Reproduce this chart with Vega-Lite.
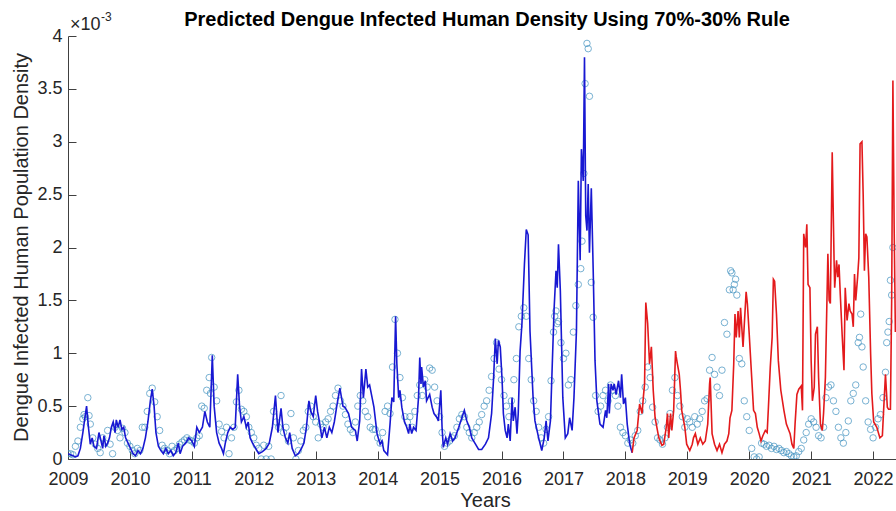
{
"$schema": "https://vega.github.io/schema/vega-lite/v6.json",
"width": 828,
"height": 423,
"autosize": {"type": "none"},
"padding": {"left": 68, "top": 36, "right": 0, "bottom": 52},
"background": "white",
"title": {"text": "Predicted Dengue Infected Human Density Using 70%-30% Rule", "font": "Liberation Sans", "fontSize": 20, "fontWeight": "bold", "color": "#000000", "anchor": "middle", "dx": 5, "offset": -35, "baseline": "alphabetic"},
"datasets": {
"obs": [
{"t":2009.00,"y":0.05},{"t":2009.04,"y":0.05},{"t":2009.08,"y":0.04},{"t":2009.12,"y":0.12},{"t":2009.16,"y":0.17},{"t":2009.20,"y":0.30},{"t":2009.24,"y":0.38},{"t":2009.26,"y":0.42},{"t":2009.28,"y":0.40},{"t":2009.32,"y":0.58},{"t":2009.34,"y":0.41},{"t":2009.36,"y":0.33},{"t":2009.40,"y":0.20},{"t":2009.44,"y":0.14},{"t":2009.48,"y":0.10},{"t":2009.52,"y":0.06},{"t":2009.56,"y":0.20},{"t":2009.60,"y":0.15},{"t":2009.64,"y":0.27},{"t":2009.68,"y":0.14},{"t":2009.72,"y":0.05},{"t":2009.76,"y":0.30},{"t":2009.80,"y":0.27},{"t":2009.84,"y":0.20},{"t":2009.88,"y":0.29},{"t":2009.92,"y":0.25},{"t":2009.96,"y":0.15},
{"t":2010.00,"y":0.12},{"t":2010.04,"y":0.08},{"t":2010.08,"y":0.05},{"t":2010.12,"y":0.10},{"t":2010.16,"y":0.08},{"t":2010.20,"y":0.30},{"t":2010.24,"y":0.30},{"t":2010.28,"y":0.45},{"t":2010.32,"y":0.62},{"t":2010.36,"y":0.67},{"t":2010.40,"y":0.54},{"t":2010.44,"y":0.40},{"t":2010.48,"y":0.27},{"t":2010.52,"y":0.13},{"t":2010.56,"y":0.10},{"t":2010.60,"y":0.08},{"t":2010.64,"y":0.05},{"t":2010.68,"y":0.12},{"t":2010.72,"y":0.08},{"t":2010.76,"y":0.10},{"t":2010.80,"y":0.14},{"t":2010.84,"y":0.16},{"t":2010.88,"y":0.18},{"t":2010.92,"y":0.20},{"t":2010.96,"y":0.18},
{"t":2011.00,"y":0.17},{"t":2011.04,"y":0.15},{"t":2011.08,"y":0.20},{"t":2011.12,"y":0.22},{"t":2011.16,"y":0.50},{"t":2011.20,"y":0.48},{"t":2011.24,"y":0.65},{"t":2011.28,"y":0.77},{"t":2011.30,"y":0.62},{"t":2011.32,"y":0.96},{"t":2011.36,"y":0.68},{"t":2011.40,"y":0.55},{"t":2011.44,"y":0.33},{"t":2011.48,"y":0.26},{"t":2011.52,"y":0.20},{"t":2011.56,"y":0.30},{"t":2011.60,"y":0.05},{"t":2011.64,"y":0.20},{"t":2011.68,"y":0.30},{"t":2011.72,"y":0.54},{"t":2011.76,"y":0.65},{"t":2011.80,"y":0.47},{"t":2011.84,"y":0.45},{"t":2011.88,"y":0.40},{"t":2011.92,"y":0.30},{"t":2011.96,"y":0.25},
{"t":2012.00,"y":0.20},{"t":2012.04,"y":0.13},{"t":2012.08,"y":0.10},{"t":2012.12,"y":0.00},{"t":2012.16,"y":0.13},{"t":2012.20,"y":0.00},{"t":2012.24,"y":0.12},{"t":2012.28,"y":0.00},{"t":2012.32,"y":0.45},{"t":2012.36,"y":0.35},{"t":2012.40,"y":0.30},{"t":2012.44,"y":0.60},{"t":2012.48,"y":0.25},{"t":2012.52,"y":0.30},{"t":2012.56,"y":0.17},{"t":2012.60,"y":0.43},{"t":2012.64,"y":0.20},{"t":2012.68,"y":0.00},{"t":2012.72,"y":0.08},{"t":2012.76,"y":0.17},{"t":2012.80,"y":0.27},{"t":2012.84,"y":0.30},{"t":2012.88,"y":0.45},{"t":2012.92,"y":0.50},{"t":2012.96,"y":0.40},
{"t":2013.00,"y":0.35},{"t":2013.04,"y":0.20},{"t":2013.08,"y":0.33},{"t":2013.12,"y":0.30},{"t":2013.16,"y":0.35},{"t":2013.20,"y":0.38},{"t":2013.24,"y":0.45},{"t":2013.28,"y":0.50},{"t":2013.32,"y":0.60},{"t":2013.36,"y":0.67},{"t":2013.40,"y":0.55},{"t":2013.44,"y":0.50},{"t":2013.48,"y":0.42},{"t":2013.52,"y":0.33},{"t":2013.56,"y":0.28},{"t":2013.60,"y":0.25},{"t":2013.64,"y":0.35},{"t":2013.68,"y":0.50},{"t":2013.72,"y":0.60},{"t":2013.76,"y":0.55},{"t":2013.80,"y":0.45},{"t":2013.84,"y":0.40},{"t":2013.88,"y":0.30},{"t":2013.92,"y":0.28},{"t":2013.96,"y":0.28},
{"t":2014.00,"y":0.20},{"t":2014.04,"y":0.15},{"t":2014.08,"y":0.25},{"t":2014.12,"y":0.45},{"t":2014.16,"y":0.50},{"t":2014.20,"y":0.43},{"t":2014.24,"y":0.87},{"t":2014.28,"y":1.32},{"t":2014.32,"y":1.00},{"t":2014.36,"y":0.77},{"t":2014.40,"y":0.58},{"t":2014.44,"y":0.40},{"t":2014.48,"y":0.35},{"t":2014.52,"y":0.40},{"t":2014.56,"y":0.30},{"t":2014.60,"y":0.45},{"t":2014.64,"y":0.60},{"t":2014.68,"y":0.70},{"t":2014.72,"y":0.60},{"t":2014.76,"y":0.75},{"t":2014.80,"y":0.68},{"t":2014.84,"y":0.86},{"t":2014.88,"y":0.84},{"t":2014.92,"y":0.68},{"t":2014.96,"y":0.55},
{"t":2015.00,"y":0.40},{"t":2015.04,"y":0.25},{"t":2015.08,"y":0.12},{"t":2015.12,"y":0.15},{"t":2015.16,"y":0.17},{"t":2015.20,"y":0.20},{"t":2015.24,"y":0.22},{"t":2015.28,"y":0.30},{"t":2015.32,"y":0.38},{"t":2015.36,"y":0.42},{"t":2015.40,"y":0.40},{"t":2015.44,"y":0.30},{"t":2015.48,"y":0.25},{"t":2015.52,"y":0.20},{"t":2015.56,"y":0.25},{"t":2015.60,"y":0.30},{"t":2015.64,"y":0.35},{"t":2015.68,"y":0.42},{"t":2015.72,"y":0.50},{"t":2015.76,"y":0.55},{"t":2015.80,"y":0.65},{"t":2015.84,"y":0.78},{"t":2015.88,"y":0.95},{"t":2015.92,"y":1.10},{"t":2015.96,"y":0.85},
{"t":2016.00,"y":0.75},{"t":2016.04,"y":0.60},{"t":2016.08,"y":0.50},{"t":2016.12,"y":0.40},{"t":2016.16,"y":0.55},{"t":2016.20,"y":0.75},{"t":2016.24,"y":0.95},{"t":2016.28,"y":1.25},{"t":2016.32,"y":1.35},{"t":2016.36,"y":1.43},{"t":2016.40,"y":1.35},{"t":2016.44,"y":0.95},{"t":2016.48,"y":0.75},{"t":2016.52,"y":0.55},{"t":2016.56,"y":0.45},{"t":2016.60,"y":0.30},{"t":2016.64,"y":0.20},{"t":2016.68,"y":0.15},{"t":2016.72,"y":0.28},{"t":2016.76,"y":0.40},{"t":2016.80,"y":0.74},{"t":2016.84,"y":1.20},{"t":2016.86,"y":1.35},{"t":2016.88,"y":1.40},{"t":2016.90,"y":1.28},{"t":2016.92,"y":1.30},{"t":2016.96,"y":1.10},
{"t":2017.00,"y":0.95},{"t":2017.04,"y":1.00},{"t":2017.08,"y":0.70},{"t":2017.12,"y":0.75},{"t":2017.16,"y":1.20},{"t":2017.20,"y":1.45},{"t":2017.24,"y":1.65},{"t":2017.28,"y":1.80},{"t":2017.30,"y":2.06},{"t":2017.33,"y":2.70},{"t":2017.35,"y":3.55},{"t":2017.38,"y":3.93},{"t":2017.40,"y":3.88},{"t":2017.42,"y":3.43},{"t":2017.45,"y":1.67},{"t":2017.48,"y":1.34},{"t":2017.52,"y":0.60},{"t":2017.56,"y":0.45},{"t":2017.60,"y":0.50},{"t":2017.64,"y":0.60},{"t":2017.68,"y":0.65},{"t":2017.72,"y":0.55},{"t":2017.76,"y":0.70},{"t":2017.80,"y":0.65},{"t":2017.84,"y":0.60},{"t":2017.88,"y":0.50},{"t":2017.92,"y":0.30},{"t":2017.96,"y":0.25},
{"t":2018.00,"y":0.22},{"t":2018.04,"y":0.15},{"t":2018.08,"y":0.18},{"t":2018.12,"y":0.15},{"t":2018.16,"y":0.22},{"t":2018.20,"y":0.27},{"t":2018.24,"y":0.45},{"t":2018.28,"y":0.55},{"t":2018.32,"y":0.68},{"t":2018.36,"y":0.87},{"t":2018.40,"y":0.77},{"t":2018.44,"y":0.49},{"t":2018.48,"y":0.35},{"t":2018.52,"y":0.20},{"t":2018.56,"y":0.18},{"t":2018.60,"y":0.14},{"t":2018.64,"y":0.20},{"t":2018.68,"y":0.30},{"t":2018.72,"y":0.43},{"t":2018.76,"y":0.65},{"t":2018.80,"y":0.77},{"t":2018.84,"y":0.60},{"t":2018.88,"y":0.50},{"t":2018.92,"y":0.40},{"t":2018.96,"y":0.30},
{"t":2019.00,"y":0.38},{"t":2019.04,"y":0.35},{"t":2019.08,"y":0.30},{"t":2019.12,"y":0.40},{"t":2019.16,"y":0.33},{"t":2019.20,"y":0.38},{"t":2019.24,"y":0.45},{"t":2019.28,"y":0.55},{"t":2019.32,"y":0.57},{"t":2019.36,"y":0.84},{"t":2019.40,"y":0.96},{"t":2019.44,"y":0.80},{"t":2019.48,"y":0.68},{"t":2019.52,"y":0.60},{"t":2019.56,"y":0.84},{"t":2019.60,"y":1.29},{"t":2019.64,"y":1.18},{"t":2019.68,"y":1.60},{"t":2019.70,"y":1.78},{"t":2019.72,"y":1.76},{"t":2019.74,"y":1.60},{"t":2019.76,"y":1.65},{"t":2019.78,"y":1.70},{"t":2019.80,"y":1.55},{"t":2019.84,"y":0.95},{"t":2019.88,"y":0.90},{"t":2019.92,"y":0.55},{"t":2019.96,"y":0.40},
{"t":2020.00,"y":0.27},{"t":2020.04,"y":0.10},{"t":2020.08,"y":0.02},{"t":2020.12,"y":0.00},{"t":2020.16,"y":0.02},{"t":2020.20,"y":0.15},{"t":2020.24,"y":0.14},{"t":2020.28,"y":0.12},{"t":2020.32,"y":0.13},{"t":2020.36,"y":0.10},{"t":2020.40,"y":0.12},{"t":2020.44,"y":0.09},{"t":2020.48,"y":0.10},{"t":2020.52,"y":0.08},{"t":2020.56,"y":0.06},{"t":2020.60,"y":0.07},{"t":2020.64,"y":0.05},{"t":2020.68,"y":0.03},{"t":2020.72,"y":0.02},{"t":2020.76,"y":0.03},{"t":2020.80,"y":0.07},{"t":2020.84,"y":0.10},{"t":2020.88,"y":0.18},{"t":2020.92,"y":0.25},{"t":2020.96,"y":0.33},
{"t":2021.00,"y":0.38},{"t":2021.04,"y":0.35},{"t":2021.08,"y":0.30},{"t":2021.12,"y":0.22},{"t":2021.16,"y":0.20},{"t":2021.20,"y":0.30},{"t":2021.24,"y":0.58},{"t":2021.28,"y":0.68},{"t":2021.32,"y":0.70},{"t":2021.36,"y":0.55},{"t":2021.40,"y":0.45},{"t":2021.44,"y":0.30},{"t":2021.48,"y":0.20},{"t":2021.52,"y":0.15},{"t":2021.56,"y":0.25},{"t":2021.60,"y":0.36},{"t":2021.64,"y":0.55},{"t":2021.68,"y":0.62},{"t":2021.72,"y":0.70},{"t":2021.76,"y":1.10},{"t":2021.78,"y":1.15},{"t":2021.80,"y":1.37},{"t":2021.82,"y":1.06},{"t":2021.84,"y":0.87},{"t":2021.88,"y":0.55},{"t":2021.92,"y":0.35},{"t":2021.96,"y":0.28},
{"t":2022.00,"y":0.20},{"t":2022.04,"y":0.30},{"t":2022.08,"y":0.38},{"t":2022.12,"y":0.42},{"t":2022.16,"y":0.58},{"t":2022.20,"y":0.82},{"t":2022.22,"y":1.10},{"t":2022.24,"y":1.20},{"t":2022.26,"y":1.30},{"t":2022.28,"y":1.69},{"t":2022.30,"y":1.55},{"t":2022.32,"y":2.00}
],
"fit": [
{"t":2009.00,"y":0.05},{"t":2009.04,"y":0.04},{"t":2009.08,"y":0.03},{"t":2009.12,"y":0.02},{"t":2009.16,"y":0.03},{"t":2009.20,"y":0.10},{"t":2009.24,"y":0.25},{"t":2009.28,"y":0.42},{"t":2009.30,"y":0.50},{"t":2009.33,"y":0.30},{"t":2009.36,"y":0.14},{"t":2009.39,"y":0.20},{"t":2009.42,"y":0.12},{"t":2009.46,"y":0.10},{"t":2009.50,"y":0.25},{"t":2009.53,"y":0.18},{"t":2009.56,"y":0.10},{"t":2009.58,"y":0.22},{"t":2009.61,"y":0.12},{"t":2009.64,"y":0.15},{"t":2009.67,"y":0.20},{"t":2009.70,"y":0.30},{"t":2009.73,"y":0.35},{"t":2009.76,"y":0.25},{"t":2009.78,"y":0.37},{"t":2009.81,"y":0.30},{"t":2009.84,"y":0.37},{"t":2009.87,"y":0.28},{"t":2009.90,"y":0.30},{"t":2009.93,"y":0.20},{"t":2009.97,"y":0.15},
{"t":2010.01,"y":0.10},{"t":2010.05,"y":0.05},{"t":2010.09,"y":0.03},{"t":2010.13,"y":0.08},{"t":2010.17,"y":0.05},{"t":2010.21,"y":0.10},{"t":2010.25,"y":0.20},{"t":2010.29,"y":0.35},{"t":2010.33,"y":0.55},{"t":2010.36,"y":0.66},{"t":2010.39,"y":0.50},{"t":2010.42,"y":0.25},{"t":2010.46,"y":0.12},{"t":2010.50,"y":0.08},{"t":2010.54,"y":0.05},{"t":2010.58,"y":0.10},{"t":2010.62,"y":0.05},{"t":2010.66,"y":0.08},{"t":2010.70,"y":0.03},{"t":2010.74,"y":0.06},{"t":2010.78,"y":0.15},{"t":2010.81,"y":0.05},{"t":2010.85,"y":0.12},{"t":2010.90,"y":0.15},{"t":2010.95,"y":0.20},
{"t":2011.00,"y":0.17},{"t":2011.04,"y":0.12},{"t":2011.08,"y":0.30},{"t":2011.12,"y":0.25},{"t":2011.17,"y":0.30},{"t":2011.21,"y":0.45},{"t":2011.25,"y":0.35},{"t":2011.29,"y":0.30},{"t":2011.33,"y":0.98},{"t":2011.36,"y":0.50},{"t":2011.40,"y":0.25},{"t":2011.44,"y":0.15},{"t":2011.48,"y":0.10},{"t":2011.51,"y":0.05},{"t":2011.54,"y":0.15},{"t":2011.58,"y":0.25},{"t":2011.62,"y":0.30},{"t":2011.66,"y":0.28},{"t":2011.70,"y":0.30},{"t":2011.74,"y":0.80},{"t":2011.77,"y":0.50},{"t":2011.80,"y":0.35},{"t":2011.84,"y":0.40},{"t":2011.88,"y":0.30},{"t":2011.91,"y":0.35},{"t":2011.94,"y":0.20},{"t":2011.98,"y":0.15},
{"t":2012.03,"y":0.10},{"t":2012.08,"y":0.05},{"t":2012.14,"y":0.07},{"t":2012.20,"y":0.10},{"t":2012.25,"y":0.15},{"t":2012.30,"y":0.30},{"t":2012.35,"y":0.60},{"t":2012.39,"y":0.25},{"t":2012.44,"y":0.48},{"t":2012.47,"y":0.30},{"t":2012.51,"y":0.20},{"t":2012.55,"y":0.15},{"t":2012.58,"y":0.25},{"t":2012.62,"y":0.10},{"t":2012.67,"y":0.03},{"t":2012.72,"y":0.05},{"t":2012.77,"y":0.10},{"t":2012.81,"y":0.15},{"t":2012.85,"y":0.30},{"t":2012.89,"y":0.55},{"t":2012.92,"y":0.45},{"t":2012.96,"y":0.40},
{"t":2013.00,"y":0.60},{"t":2013.03,"y":0.45},{"t":2013.06,"y":0.35},{"t":2013.10,"y":0.20},{"t":2013.14,"y":0.30},{"t":2013.18,"y":0.20},{"t":2013.22,"y":0.30},{"t":2013.26,"y":0.25},{"t":2013.30,"y":0.35},{"t":2013.34,"y":0.50},{"t":2013.39,"y":0.67},{"t":2013.44,"y":0.50},{"t":2013.47,"y":0.49},{"t":2013.53,"y":0.43},{"t":2013.58,"y":0.30},{"t":2013.64,"y":0.27},{"t":2013.67,"y":0.17},{"t":2013.71,"y":0.36},{"t":2013.74,"y":0.85},{"t":2013.77,"y":0.58},{"t":2013.81,"y":0.85},{"t":2013.84,"y":0.68},{"t":2013.87,"y":0.70},{"t":2013.91,"y":0.58},{"t":2013.94,"y":0.49},{"t":2013.99,"y":0.24},
{"t":2014.04,"y":0.14},{"t":2014.07,"y":0.17},{"t":2014.10,"y":0.08},{"t":2014.16,"y":0.04},{"t":2014.20,"y":0.33},{"t":2014.23,"y":0.58},{"t":2014.26,"y":0.54},{"t":2014.29,"y":1.35},{"t":2014.31,"y":0.90},{"t":2014.34,"y":0.58},{"t":2014.36,"y":0.65},{"t":2014.39,"y":0.49},{"t":2014.43,"y":0.36},{"t":2014.47,"y":0.30},{"t":2014.50,"y":0.24},{"t":2014.52,"y":0.33},{"t":2014.55,"y":0.24},{"t":2014.58,"y":0.30},{"t":2014.62,"y":0.27},{"t":2014.66,"y":0.58},{"t":2014.68,"y":0.96},{"t":2014.70,"y":0.71},{"t":2014.71,"y":0.87},{"t":2014.74,"y":0.68},{"t":2014.77,"y":0.74},{"t":2014.79,"y":0.55},{"t":2014.84,"y":0.61},{"t":2014.88,"y":0.49},{"t":2014.91,"y":0.43},{"t":2014.96,"y":0.39},{"t":2014.98,"y":0.36},
{"t":2015.02,"y":0.65},{"t":2015.04,"y":0.30},{"t":2015.06,"y":0.11},{"t":2015.10,"y":0.20},{"t":2015.13,"y":0.14},{"t":2015.17,"y":0.24},{"t":2015.21,"y":0.17},{"t":2015.25,"y":0.20},{"t":2015.31,"y":0.30},{"t":2015.36,"y":0.39},{"t":2015.40,"y":0.46},{"t":2015.44,"y":0.36},{"t":2015.48,"y":0.30},{"t":2015.52,"y":0.20},{"t":2015.58,"y":0.14},{"t":2015.63,"y":0.09},{"t":2015.68,"y":0.09},{"t":2015.74,"y":0.14},{"t":2015.79,"y":0.20},{"t":2015.84,"y":0.43},{"t":2015.87,"y":0.74},{"t":2015.90,"y":1.14},{"t":2015.93,"y":0.90},{"t":2015.95,"y":1.12},{"t":2015.98,"y":1.06},
{"t":2016.01,"y":0.74},{"t":2016.03,"y":0.43},{"t":2016.06,"y":0.27},{"t":2016.09,"y":0.20},{"t":2016.11,"y":0.33},{"t":2016.14,"y":0.17},{"t":2016.17,"y":0.58},{"t":2016.19,"y":0.36},{"t":2016.22,"y":0.49},{"t":2016.25,"y":0.24},{"t":2016.27,"y":0.43},{"t":2016.30,"y":1.02},{"t":2016.33,"y":1.28},{"t":2016.37,"y":1.84},{"t":2016.40,"y":2.17},{"t":2016.43,"y":2.12},{"t":2016.46,"y":1.21},{"t":2016.51,"y":0.58},{"t":2016.54,"y":0.36},{"t":2016.60,"y":0.20},{"t":2016.65,"y":0.08},{"t":2016.69,"y":0.20},{"t":2016.72,"y":0.36},{"t":2016.75,"y":0.17},{"t":2016.79,"y":0.36},{"t":2016.82,"y":0.90},{"t":2016.85,"y":1.43},{"t":2016.88,"y":1.78},{"t":2016.90,"y":1.62},{"t":2016.92,"y":2.03},{"t":2016.95,"y":1.59},{"t":2016.99,"y":0.58},
{"t":2017.03,"y":0.20},{"t":2017.07,"y":0.24},{"t":2017.10,"y":0.39},{"t":2017.14,"y":0.27},{"t":2017.17,"y":0.58},{"t":2017.21,"y":1.21},{"t":2017.24,"y":2.63},{"t":2017.27,"y":1.88},{"t":2017.29,"y":2.93},{"t":2017.32,"y":2.63},{"t":2017.34,"y":3.80},{"t":2017.36,"y":2.30},{"t":2017.38,"y":2.16},{"t":2017.40,"y":2.60},{"t":2017.42,"y":1.95},{"t":2017.45,"y":2.56},{"t":2017.48,"y":1.80},{"t":2017.51,"y":0.93},{"t":2017.54,"y":0.55},{"t":2017.59,"y":0.33},{"t":2017.64,"y":0.30},{"t":2017.68,"y":0.46},{"t":2017.70,"y":0.39},{"t":2017.73,"y":0.71},{"t":2017.74,"y":0.43},{"t":2017.77,"y":0.71},{"t":2017.80,"y":0.65},{"t":2017.82,"y":0.71},{"t":2017.85,"y":0.61},{"t":2017.89,"y":0.74},{"t":2017.92,"y":0.58},{"t":2017.94,"y":0.80},{"t":2017.97,"y":0.52},
{"t":2018.00,"y":0.58},{"t":2018.03,"y":0.33},{"t":2018.07,"y":0.14},{"t":2018.11,"y":0.06},{"t":2018.14,"y":0.20},{"t":2018.19,"y":0.27},{"t":2018.23,"y":0.52},{"t":2018.27,"y":0.43},{"t":2018.29,"y":0.58},{"t":2018.31,"y":0.71},{"t":2018.33,"y":1.48},{"t":2018.36,"y":1.28},{"t":2018.39,"y":0.90},{"t":2018.42,"y":1.06},{"t":2018.45,"y":0.65},{"t":2018.48,"y":0.39},{"t":2018.54,"y":0.20},{"t":2018.59,"y":0.13},{"t":2018.62,"y":0.14},{"t":2018.66,"y":0.30},{"t":2018.68,"y":0.43},{"t":2018.70,"y":0.20},{"t":2018.73,"y":0.43},{"t":2018.75,"y":0.27},{"t":2018.78,"y":0.46},{"t":2018.81,"y":1.02},{"t":2018.82,"y":0.97},{"t":2018.84,"y":0.90},{"t":2018.87,"y":0.80},{"t":2018.89,"y":0.65},{"t":2018.91,"y":0.46},{"t":2018.96,"y":0.30},{"t":2018.99,"y":0.14},
{"t":2019.04,"y":0.08},{"t":2019.08,"y":0.14},{"t":2019.10,"y":0.20},{"t":2019.13,"y":0.24},{"t":2019.17,"y":0.14},{"t":2019.21,"y":0.20},{"t":2019.25,"y":0.14},{"t":2019.29,"y":0.17},{"t":2019.33,"y":0.33},{"t":2019.36,"y":0.71},{"t":2019.37,"y":0.77},{"t":2019.40,"y":0.24},{"t":2019.44,"y":0.14},{"t":2019.48,"y":0.08},{"t":2019.52,"y":0.14},{"t":2019.56,"y":0.06},{"t":2019.60,"y":0.14},{"t":2019.64,"y":0.17},{"t":2019.67,"y":0.24},{"t":2019.69,"y":0.39},{"t":2019.72,"y":0.46},{"t":2019.75,"y":0.90},{"t":2019.77,"y":1.37},{"t":2019.79,"y":1.15},{"t":2019.82,"y":1.40},{"t":2019.84,"y":1.15},{"t":2019.86,"y":1.43},{"t":2019.90,"y":1.06},{"t":2019.95,"y":1.58},{"t":2019.97,"y":1.47},
{"t":2020.00,"y":1.18},{"t":2020.04,"y":0.77},{"t":2020.07,"y":0.46},{"t":2020.10,"y":0.43},{"t":2020.13,"y":0.30},{"t":2020.16,"y":0.24},{"t":2020.19,"y":0.17},{"t":2020.22,"y":0.22},{"t":2020.26,"y":0.27},{"t":2020.29,"y":0.25},{"t":2020.31,"y":0.49},{"t":2020.34,"y":0.87},{"t":2020.37,"y":1.15},{"t":2020.39,"y":1.70},{"t":2020.41,"y":1.68},{"t":2020.44,"y":1.37},{"t":2020.47,"y":0.93},{"t":2020.51,"y":0.65},{"t":2020.56,"y":0.46},{"t":2020.60,"y":0.33},{"t":2020.64,"y":0.27},{"t":2020.66,"y":0.24},{"t":2020.69,"y":0.14},{"t":2020.72,"y":0.10},{"t":2020.74,"y":0.33},{"t":2020.77,"y":0.61},{"t":2020.80,"y":0.66},{"t":2020.84,"y":0.69},{"t":2020.86,"y":0.46},{"t":2020.88,"y":2.13},{"t":2020.91,"y":2.00},{"t":2020.93,"y":2.22},{"t":2020.95,"y":1.65},{"t":2020.98,"y":1.62},
{"t":2021.00,"y":0.93},{"t":2021.02,"y":0.55},{"t":2021.05,"y":0.68},{"t":2021.07,"y":1.18},{"t":2021.10,"y":1.25},{"t":2021.12,"y":0.77},{"t":2021.15,"y":0.33},{"t":2021.18,"y":0.27},{"t":2021.20,"y":0.43},{"t":2021.23,"y":0.77},{"t":2021.27,"y":1.94},{"t":2021.29,"y":1.50},{"t":2021.31,"y":1.47},{"t":2021.34,"y":2.90},{"t":2021.37,"y":1.88},{"t":2021.38,"y":1.62},{"t":2021.41,"y":1.88},{"t":2021.43,"y":1.72},{"t":2021.45,"y":1.84},{"t":2021.47,"y":1.56},{"t":2021.50,"y":1.18},{"t":2021.53,"y":0.84},{"t":2021.55,"y":1.62},{"t":2021.58,"y":1.31},{"t":2021.61,"y":1.47},{"t":2021.63,"y":1.40},{"t":2021.66,"y":1.37},{"t":2021.68,"y":1.25},{"t":2021.70,"y":1.75},{"t":2021.72,"y":1.50},{"t":2021.75,"y":1.72},{"t":2021.77,"y":1.90},{"t":2021.79,"y":2.98},{"t":2021.82,"y":3.00},{"t":2021.84,"y":2.50},{"t":2021.86,"y":1.78},{"t":2021.88,"y":2.13},{"t":2021.90,"y":2.10},{"t":2021.93,"y":1.72},{"t":2021.96,"y":1.00},{"t":2021.98,"y":0.62},
{"t":2022.01,"y":0.35},{"t":2022.06,"y":0.30},{"t":2022.11,"y":0.20},{"t":2022.15,"y":0.22},{"t":2022.17,"y":0.46},{"t":2022.20,"y":0.80},{"t":2022.23,"y":0.49},{"t":2022.25,"y":0.47},{"t":2022.28,"y":0.47},{"t":2022.30,"y":1.50},{"t":2022.32,"y":3.58},{"t":2022.34,"y":2.20},{"t":2022.36,"y":1.20}
]
},
"layer": [
{"data": {"name": "obs"},
 "mark": {"type": "point", "shape": "circle", "filled": false, "size": 42, "strokeWidth": 1, "color": "#3f91c0", "clip": true},
 "encoding": {
  "x": {"field": "t", "type": "quantitative", "scale": {"domain": [2009, 2022.37], "nice": false, "zero": false},
        "axis": {"values": [2009,2010,2011,2012,2013,2014,2015,2016,2017,2018,2019,2020,2021,2022], "format": "d", "title": "Years", "labelPadding": 19, "titleX": 417, "titleY": 47}},
  "y": {"field": "y", "type": "quantitative", "scale": {"domain": [0, 4], "nice": false},
        "axis": {"values": [0,0.5,1,1.5,2,2.5,3,3.5,4], "format": ".1~f", "title": "Dengue Infected Human Population Density", "labelPadding": 14, "titleX": -41, "titleY": 211}}
 }},
{"data": {"name": "fit"}, "transform": [{"filter": "datum.t <= 2018.11"}],
 "mark": {"type": "line", "color": "#1818d2", "strokeWidth": 1.6, "clip": true},
 "encoding": {"x": {"field": "t", "type": "quantitative"}, "y": {"field": "y", "type": "quantitative"}}},
{"data": {"name": "fit"}, "transform": [{"filter": "datum.t >= 2018.11"}],
 "mark": {"type": "line", "color": "#e31a1c", "strokeWidth": 1.6, "clip": true},
 "encoding": {"x": {"field": "t", "type": "quantitative"}, "y": {"field": "y", "type": "quantitative"}}},
{"data": {"values": [{"t": 2009, "y": 4}]},
 "mark": {"type": "text", "text": "×10", "align": "left", "baseline": "alphabetic", "dx": 2, "dy": -6, "fontSize": 18, "font": "Liberation Sans", "color": "#262626"},
 "encoding": {"x": {"field": "t", "type": "quantitative"}, "y": {"field": "y", "type": "quantitative"}}},
{"data": {"values": [{"t": 2009, "y": 4}]},
 "mark": {"type": "text", "text": "-3", "align": "left", "baseline": "alphabetic", "dx": 33, "dy": -15, "fontSize": 12, "font": "Liberation Sans", "color": "#262626"},
 "encoding": {"x": {"field": "t", "type": "quantitative"}, "y": {"field": "y", "type": "quantitative"}}}
],
"config": {
 "view": {"stroke": null},
 "axis": {"grid": false, "tickSize": -8, "tickColor": "#404040", "domainColor": "#404040", "domainWidth": 1, "tickWidth": 1,
          "labelFont": "Liberation Sans", "labelFontSize": 18, "labelColor": "#262626", "labelFlush": false, "labelOverlap": false,
          "titleFont": "Liberation Sans", "titleFontSize": 20, "titleFontWeight": "normal", "titleColor": "#262626", "titleBaseline": "alphabetic"}
}
}
